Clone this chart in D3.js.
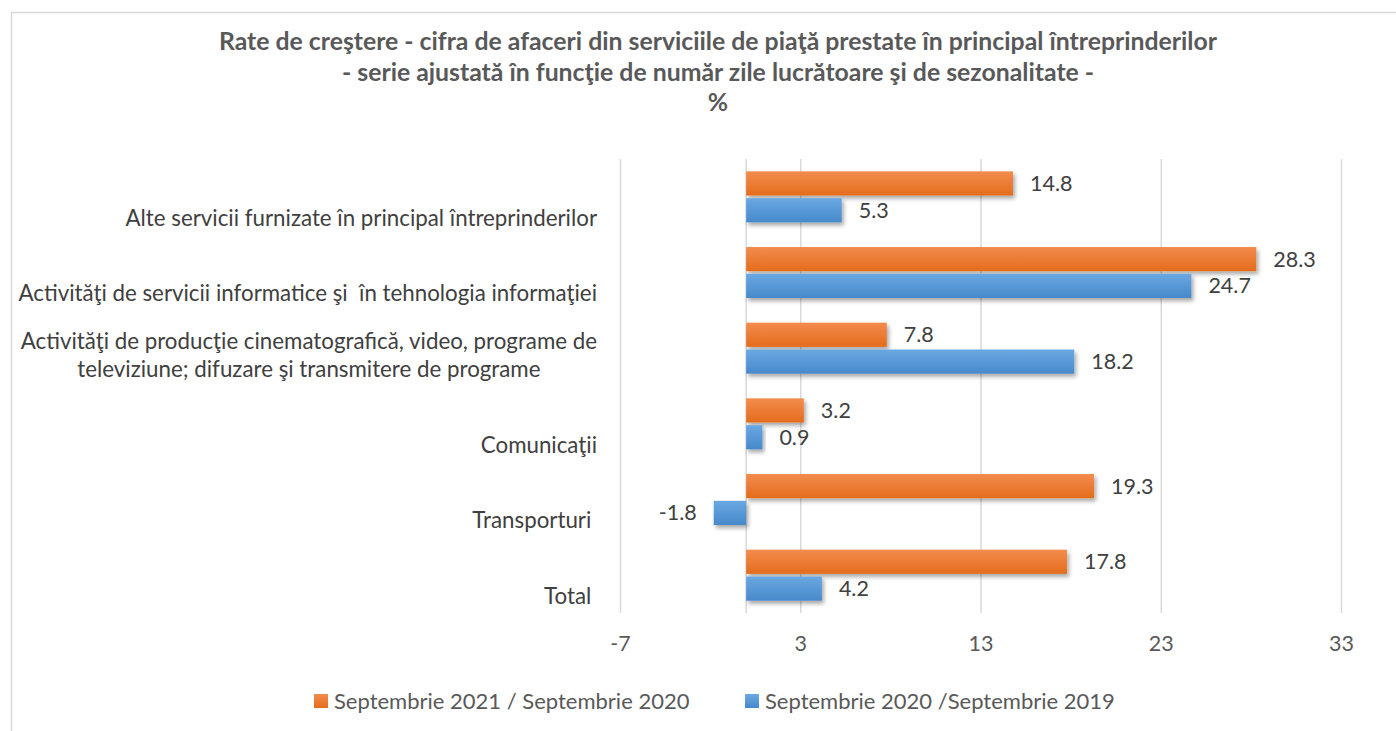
<!DOCTYPE html>
<html>
<head>
<meta charset="utf-8">
<script src="https://cdn.jsdelivr.net/npm/d3@7"></script>
<style>
    body { margin: 0; background: #fff; }
    svg { display: block; font-family: Lato, "Open Sans", sans-serif; }
</style>
</head>
<body>
<script>
// data
const titleLines = [
    "Rate de creştere - cifra de afaceri din serviciile de piaţă prestate în principal întreprinderilor",
    "- serie ajustată în funcţie de număr zile lucrătoare şi de sezonalitate -",
    "%"
];
const categories = [
    "Alte servicii furnizate în principal întreprinderilor",
    "Activităţi de servicii informatice şi  în tehnologia informaţiei",
    "Activităţi de producţie cinematografică, video, programe de\nteleviziune; difuzare şi transmitere de programe",
    "Comunicaţii",
    "Transporturi ",
    "Total "
];
const seriesNames = ["Septembrie 2021 / Septembrie 2020", "Septembrie 2020 /Septembrie 2019"];
const values2021 = [14.8, 28.3, 7.8, 3.2, 19.3, 17.8];
const values2020 = [5.3, 24.7, 18.2, 0.9, -1.8, 4.2];
const xTicks = [-7, 3, 13, 23, 33];

const width = 1396, height = 731;
const seriesValues = [values2021, values2020];
const colors = [["#F38C4E", "#E46C1C"], ["#6AA8E2", "#4689CB"]];
const fmt = function (v) { return v.toFixed(1); };   // plain hyphen for negatives

const svg = d3.select("body").append("svg")
    .attr("width", width)
    .attr("height", height);

const defs = svg.append("defs");
colors.forEach(function (c, i) {
    const g = defs.append("linearGradient")
        .attr("id", "grad" + i)
        .attr("x1", 0).attr("y1", 0).attr("x2", 0).attr("y2", 1);
    g.append("stop").attr("offset", "0%").attr("stop-color", c[0]);
    g.append("stop").attr("offset", "100%").attr("stop-color", c[1]);
});
defs.append("filter")
    .attr("id", "shadow")
    .attr("x", "-20%").attr("y", "-40%").attr("width", "140%").attr("height", "200%")
    .append("feDropShadow")
    .attr("dx", 2).attr("dy", 3)
    .attr("stdDeviation", 2)
    .attr("flood-color", "#000")
    .attr("flood-opacity", 0.35);

// chart frame
svg.append("rect")
    .attr("x", 11.5).attr("y", 12.5)
    .attr("width", 1400).attr("height", 740)
    .attr("fill", "none")
    .attr("stroke", "#D9D9D9")
    .attr("stroke-width", 1.5);

//Title
svg.append("g").selectAll("text")
    .data(titleLines)
    .enter().append("text")
    .attr("x", 718)
    .attr("y", function (d, i) { return 50 + i * 30.5; })
    .attr("text-anchor", "middle")
    .attr("font-size", 24.8)
    .attr("font-weight", "bold")
    .attr("fill", "#595959")
    .text(function (d) { return d; });

//Scales
const xScale = d3.scaleLinear()
    .domain([-7, 33])
    .range([620, 1341]);

const yScale = d3.scaleBand()
    .domain(categories)
    .range([159, 613])
    .paddingInner(0.326)
    .paddingOuter(0.163);

const subScale = d3.scaleBand()
    .domain(d3.range(seriesNames.length))
    .range([0, yScale.bandwidth()])
    .paddingInner(0.1);

//Gridlines + x axis labels
const xAxis = d3.axisBottom()
    .scale(xScale)
    .tickValues(xTicks)
    .tickSize(-(613 - 159))
    .tickPadding(23)
    .tickFormat(function (d) { return String(d); });

const axisG = svg.append("g")
    .attr("transform", "translate(0," + 613 + ")")
    .call(xAxis);
axisG.select(".domain").remove();
axisG.selectAll(".tick line")
    .attr("stroke", "#D9D9D9")
    .attr("stroke-width", 1.5);
axisG.selectAll(".tick text")
    .attr("font-size", 21.5)
    .attr("font-family", "Lato, sans-serif")
    .attr("fill", "#595959");

// category axis line at zero
svg.append("line")
    .attr("x1", xScale(0)).attr("x2", xScale(0))
    .attr("y1", 159).attr("y2", 613)
    .attr("stroke", "#D9D9D9")
    .attr("stroke-width", 1.5);

//Bars
const barData = [];
categories.forEach(function (cat, ci) {
    seriesValues.forEach(function (vals, si) {
        barData.push({ cat: cat, s: si, v: vals[ci] });
    });
});

svg.append("g").selectAll("rect")
    .data(barData)
    .enter().append("rect")
    .attr("x", function (d) { return xScale(Math.min(0, d.v)); })
    .attr("y", function (d) { return yScale(d.cat) + subScale(d.s); })
    .attr("width", function (d) { return Math.abs(xScale(d.v) - xScale(0)); })
    .attr("height", subScale.bandwidth())
    .attr("fill", function (d) { return "url(#grad" + d.s + ")"; })
    .attr("filter", "url(#shadow)");

//Data labels
svg.append("g").selectAll("text")
    .data(barData)
    .enter().append("text")
    .attr("x", function (d) { return d.v >= 0 ? xScale(d.v) + 17 : xScale(d.v) - 17; })
    .attr("y", function (d) { return yScale(d.cat) + subScale(d.s) + subScale.bandwidth() / 2; })
    .attr("dy", "0.35em")
    .attr("text-anchor", function (d) { return d.v >= 0 ? "start" : "end"; })
    .attr("font-size", 21.5)
    .attr("fill", "#404040")
    .text(function (d) { return fmt(d.v); });

//Category labels (bottom aligned, centred block, right edge at 597)
const labelG = svg.append("g");
categories.forEach(function (cat) {
    const lines = cat.split("\n");
    const t = labelG.append("text")
        .attr("font-size", 22.3)
        .attr("fill", "#404040")
        .style("white-space", "pre");
    const spans = lines.map(function (ln) {
        return t.append("tspan").text(ln);
    });
    const w = d3.max(spans, function (s) { return s.node().getComputedTextLength(); });
    const cx = 597 - w / 2;
    const lastY = yScale(cat) + yScale.bandwidth() / 2 + 21;
    spans.forEach(function (s, i) {
        s.attr("x", cx)
            .attr("y", lastY - (lines.length - 1 - i) * 28)
            .attr("dy", "0.35em")
            .attr("text-anchor", "middle");
    });
});

//Legend
const legendX = [314, 745];
const legend = svg.append("g").selectAll("g")
    .data(seriesNames)
    .enter().append("g")
    .attr("transform", function (d, i) { return "translate(" + legendX[i] + "," + 701 + ")"; });
legend.append("rect")
    .attr("x", 0).attr("y", -7)
    .attr("width", 14).attr("height", 14)
    .attr("fill", function (d, i) { return "url(#grad" + i + ")"; });
legend.append("text")
    .attr("x", 20)
    .attr("dy", "0.35em")
    .attr("font-size", 22)
    .attr("fill", "#595959")
    .text(function (d) { return d; });
</script>
</body>
</html>
